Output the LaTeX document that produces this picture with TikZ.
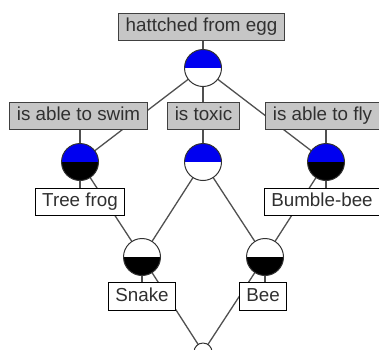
\documentclass[tikz,border=0pt]{standalone}
\usepackage{fontspec}
\setmainfont{Liberation Sans}
\usetikzlibrary{backgrounds}
\definecolor{txt}{HTML}{303030}
\definecolor{attrfill}{HTML}{C6C6C6}
\definecolor{edge}{HTML}{505050}
\definecolor{cblue}{HTML}{0000F0}
\tikzset{
  lbl/.style={draw, line width=1.2pt, inner xsep=7pt, inner ysep=5pt,
    text height=13.5pt, text depth=4pt, text=txt,
    font=\fontsize{18.8}{20}\selectfont},
  attr/.style={lbl, fill=attrfill, draw=black!75},
  obj/.style={lbl, fill=white, draw=black},
  conc/.style={circle, draw=black!80, line width=1pt, minimum size=37pt, inner sep=0pt},
  halves/.style 2 args={conc, path picture={
      \fill[#2] (path picture bounding box.south west) rectangle (path picture bounding box.east);
      \fill[#1] (path picture bounding box.west) rectangle (path picture bounding box.north east);}},
  conn/.style={draw=edge, line width=1.3pt}
}
\begin{document}
\begin{tikzpicture}[x=1pt,y=1pt]
\useasboundingbox (0,0) rectangle (379,-349);
% concepts
\node[halves={cblue}{white}] (ctop) at (203,-68) {};
\node[halves={cblue}{black}] (cswim) at (80,-162) {};
\node[halves={cblue}{white}] (ctox) at (203,-162) {};
\node[halves={cblue}{black}] (cfly) at (326,-162) {};
\node[halves={white}{black}] (csnake) at (142,-257) {};
\node[halves={white}{black}] (cbee) at (265,-257) {};
\node[circle, draw=black!80, fill=white, line width=1pt, minimum size=18pt, inner sep=0pt] (cbot) at (203,-352) {};
% labels
\node[attr] (lhatch) at (201.5,-27) {hattched from egg};
\node[attr] (lswim) at (78.5,-116) {is able to swim};
\node[attr] (ltox) at (203.5,-116) {is toxic};
\node[attr] (lfly) at (322.5,-116) {is able to fly};
\node[obj] (ofrog) at (80,-202) {Tree frog};
\node[obj] (obumble) at (322,-202) {Bumble-bee};
\node[obj] (osnake) at (142,-296.5) {Snake};
\node[obj] (obee) at (263,-296.5) {Bee};
\begin{scope}[on background layer]
\fill[white] (0,0) rectangle (379,-349);
\draw[conn] (ctop.center) -- (cswim.center);
\draw[conn] (ctop.center) -- (ctox.center);
\draw[conn] (ctop.center) -- (cfly.center);
\draw[conn] (cswim.center) -- (csnake.center);
\draw[conn] (ctox.center) -- (csnake.center);
\draw[conn] (ctox.center) -- (cbee.center);
\draw[conn] (cfly.center) -- (cbee.center);
\draw[conn] (csnake.center) -- (cbot.center);
\draw[conn] (cbee.center) -- (cbot.center);
\draw[conn] (ctop.center) -- (ctop.center |- lhatch.south);
\draw[conn] (cswim.center) -- (cswim.center |- lswim.south);
\draw[conn] (ctox.center) -- (ctox.center |- ltox.south);
\draw[conn] (cfly.center) -- (cfly.center |- lfly.south);
\draw[conn] (cswim.center) -- (cswim.center |- ofrog.north);
\draw[conn] (cfly.center) -- (cfly.center |- obumble.north);
\draw[conn] (csnake.center) -- (csnake.center |- osnake.north);
\draw[conn] (cbee.center) -- (cbee.center |- obee.north);
\end{scope}
\end{tikzpicture}
\end{document}
